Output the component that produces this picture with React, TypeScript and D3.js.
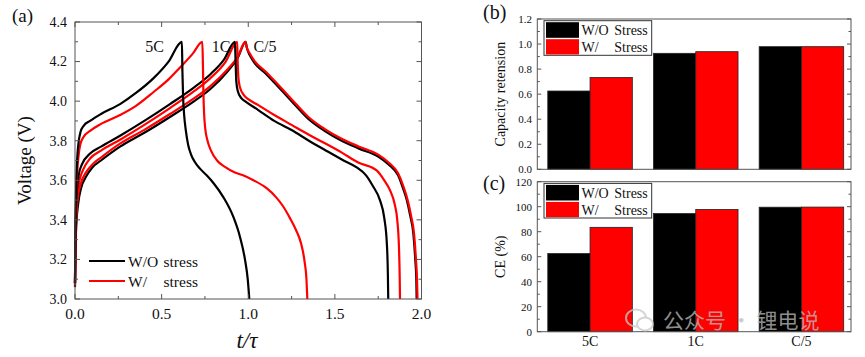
import React from "react";
import * as d3 from "d3";

// ---------- Panel (a) data: [t/τ, Voltage] ----------
const curve5C_WO: [number, number][] = [
  [0, 3.08], [0.002, 3.3], [0.005, 3.5], [0.009, 3.64], [0.015, 3.74], [0.022, 3.8], [0.032, 3.845], [0.05, 3.875],
  [0.087, 3.9], [0.15, 3.935], [0.26, 3.985], [0.35, 4.04], [0.452, 4.115], [0.54, 4.2], [0.617, 4.3],
  [0.62, 4.15], [0.624, 4.02], [0.63, 3.93], [0.64, 3.85], [0.653, 3.78], [0.67, 3.73], [0.69, 3.695], [0.72, 3.66],
  [0.76, 3.625], [0.8, 3.585], [0.856, 3.515], [0.914, 3.415], [0.952, 3.315], [0.981, 3.2], [0.997, 3.1], [1.006, 3.0],
];
const curve5C_W: [number, number][] = [
  [0, 3.08], [0.002, 3.28], [0.006, 3.5], [0.012, 3.63], [0.02, 3.72], [0.03, 3.78], [0.05, 3.82], [0.087, 3.85],
  [0.15, 3.885], [0.26, 3.93], [0.35, 3.975], [0.452, 4.045], [0.54, 4.11], [0.606, 4.17], [0.68, 4.24], [0.735, 4.3],
  [0.738, 4.2], [0.741, 4.05], [0.745, 3.94], [0.752, 3.86], [0.765, 3.8], [0.785, 3.75], [0.82, 3.7], [0.87, 3.665],
  [0.92, 3.64], [0.97, 3.625], [1.03, 3.6], [1.106, 3.56], [1.16, 3.515], [1.2, 3.47], [1.24, 3.41], [1.275, 3.35],
  [1.305, 3.28], [1.325, 3.19], [1.336, 3.1], [1.341, 3.0],
];
const curve1C_WO: [number, number][] = [
  [0, 3.08], [0.002, 3.3], [0.006, 3.46], [0.012, 3.56], [0.022, 3.63], [0.04, 3.68], [0.087, 3.735], [0.15, 3.77],
  [0.26, 3.825], [0.4, 3.9], [0.548, 3.985], [0.68, 4.065], [0.78, 4.135], [0.86, 4.21], [0.923, 4.3],
  [0.927, 4.2], [0.931, 4.1], [0.94, 4.05], [0.96, 4.015], [0.981, 4.0], [1.058, 3.955], [1.15, 3.9], [1.25, 3.854],
  [1.35, 3.8], [1.443, 3.753], [1.54, 3.705], [1.626, 3.665], [1.68, 3.625], [1.72, 3.57], [1.76, 3.5], [1.785, 3.41],
  [1.8, 3.28], [1.806, 3.12], [1.808, 3.0],
];
const curve1C_W: [number, number][] = [
  [0, 3.08], [0.002, 3.27], [0.007, 3.43], [0.014, 3.53], [0.026, 3.6], [0.045, 3.65], [0.087, 3.71], [0.15, 3.75],
  [0.26, 3.805], [0.4, 3.88], [0.548, 3.965], [0.68, 4.045], [0.78, 4.115], [0.87, 4.2], [0.936, 4.3],
  [0.939, 4.2], [0.943, 4.12], [0.952, 4.07], [0.975, 4.03], [1.0, 4.01], [1.058, 3.98], [1.15, 3.93], [1.25, 3.88],
  [1.35, 3.83], [1.443, 3.787], [1.54, 3.74], [1.635, 3.69], [1.741, 3.65], [1.785, 3.6], [1.818, 3.55], [1.845, 3.48],
  [1.86, 3.4], [1.87, 3.26], [1.874, 3.12], [1.876, 3.0],
];
const curveC5_WO: [number, number][] = [
  [0, 3.06], [0.002, 3.22], [0.008, 3.38], [0.018, 3.48], [0.035, 3.56], [0.065, 3.62], [0.1, 3.665], [0.15, 3.7],
  [0.26, 3.77], [0.4, 3.84], [0.548, 3.92], [0.68, 3.995], [0.78, 4.06], [0.88, 4.15], [0.94, 4.22], [0.985, 4.3],
  [0.992, 4.27], [1.01, 4.23], [1.039, 4.19], [1.1, 4.14], [1.154, 4.09], [1.25, 4.0], [1.347, 3.91], [1.44, 3.85],
  [1.539, 3.8], [1.64, 3.76], [1.75, 3.72], [1.81, 3.68], [1.865, 3.625], [1.893, 3.56], [1.915, 3.5], [1.935, 3.42],
  [1.953, 3.33], [1.964, 3.2], [1.97, 3.1], [1.972, 3.0],
];
const curveC5_W: [number, number][] = [
  [0, 3.07], [0.002, 3.25], [0.007, 3.41], [0.016, 3.51], [0.032, 3.58], [0.06, 3.635], [0.1, 3.68], [0.15, 3.715],
  [0.26, 3.785], [0.4, 3.855], [0.548, 3.935], [0.68, 4.01], [0.78, 4.075], [0.88, 4.16], [0.94, 4.225], [0.983, 4.3],
  [0.99, 4.275], [1.01, 4.24], [1.039, 4.2], [1.1, 4.15], [1.154, 4.1], [1.25, 4.01], [1.347, 3.92], [1.44, 3.86],
  [1.539, 3.81], [1.64, 3.77], [1.75, 3.73], [1.81, 3.69], [1.865, 3.635], [1.895, 3.57], [1.92, 3.5], [1.94, 3.42],
  [1.957, 3.33], [1.968, 3.2], [1.974, 3.1], [1.977, 3.0],
];
const rateLabels = ["5C", "1C", "C/5"];
const rateLabelPos: [number, number][] = [[0.405, 4.3], [0.79, 4.3], [1.03, 4.3]];

// ---------- Panels (b),(c) data ----------
const categories = ["5C", "1C", "C/5"];
const capacityWO = [0.625, 0.926, 0.979];
const capacityW = [0.733, 0.939, 0.979];
const ceWO = [62.5, 94.5, 99.6];
const ceW = [83.5, 97.8, 99.7];

const FONT = "'Liberation Serif', 'Times New Roman', serif";
const BLACK = "#000000";
const RED = "#ff0000";
const FRAME = "#555555";

function PanelA() {
  const L = 75, R = 421.5, T = 22, B = 299;
  const x = d3.scaleLinear().domain([0, 2]).range([L, R]);
  const y = d3.scaleLinear().domain([3.0, 4.4]).range([B, T]);
  const line = d3.line<[number, number]>().x((d) => x(d[0])).y((d) => y(d[1])).curve(d3.curveMonotoneX);
  const xMajor = d3.range(0, 2.001, 0.5);
  const xMinor = d3.range(0.25, 2, 0.5);
  const yMajor = d3.range(3.0, 4.401, 0.2);
  const yMinor = d3.range(3.1, 4.4, 0.2);
  const curves: { d: [number, number][]; c: string }[] = [
    { d: curveC5_WO, c: BLACK },
    { d: curveC5_W, c: RED },
    { d: curve1C_W, c: RED },
    { d: curve1C_WO, c: BLACK },
    { d: curve5C_W, c: RED },
    { d: curve5C_WO, c: BLACK },
  ];
  return (
    <g>
      <text x={12} y={22} fontFamily={FONT} fontSize={19} fill="#111">(a)</text>
      {curves.map((c, i) => (
        <path key={i} d={line(c.d) || ""} fill="none" stroke={c.c} strokeWidth={2.2} />
      ))}
      <rect x={L} y={T} width={R - L} height={B - T} fill="none" stroke={FRAME} strokeWidth={1} />
      {xMajor.map((v) => (
        <g key={"xM" + v}>
          <line x1={x(v)} x2={x(v)} y1={B} y2={B - 5} stroke={FRAME} />
          <line x1={x(v)} x2={x(v)} y1={T} y2={T + 5} stroke={FRAME} />
          <text x={x(v)} y={319} textAnchor="middle" fontFamily={FONT} fontSize={15.5} fill="#111">{v.toFixed(1)}</text>
        </g>
      ))}
      {xMinor.map((v) => (
        <g key={"xm" + v}>
          <line x1={x(v)} x2={x(v)} y1={B} y2={B - 3} stroke={FRAME} />
          <line x1={x(v)} x2={x(v)} y1={T} y2={T + 3} stroke={FRAME} />
        </g>
      ))}
      {yMajor.map((v) => (
        <g key={"yM" + v}>
          <line x1={L} x2={L + 5} y1={y(v)} y2={y(v)} stroke={FRAME} />
          <line x1={R} x2={R - 5} y1={y(v)} y2={y(v)} stroke={FRAME} />
          <text x={67} y={y(v) + 4.8} textAnchor="end" fontFamily={FONT} fontSize={14} fill="#111">{v.toFixed(1)}</text>
        </g>
      ))}
      {yMinor.map((v) => (
        <g key={"ym" + v}>
          <line x1={L} x2={L + 3} y1={y(v)} y2={y(v)} stroke={FRAME} />
          <line x1={R} x2={R - 3} y1={y(v)} y2={y(v)} stroke={FRAME} />
        </g>
      ))}
      <text transform={`translate(31,${(T + B) / 2}) rotate(-90)`} textAnchor="middle" fontFamily={FONT} fontSize={19} fill="#111">Voltage (V)</text>
      <text x={247} y={348} textAnchor="middle" fontFamily={FONT} fontSize={23} fontStyle="italic" fill="#111">t/τ</text>
      {rateLabels.map((s, i) => (
        <text key={s} x={x(rateLabelPos[i][0])} y={y(rateLabelPos[i][1]) + 10} fontFamily={FONT} fontSize={16} fill="#111">{s}</text>
      ))}
      {/* legend */}
      <line x1={89} x2={125} y1={261} y2={261} stroke={BLACK} strokeWidth={2.2} />
      <line x1={89} x2={125} y1={281} y2={281} stroke={RED} strokeWidth={2.2} />
      <text x={128} y={266.5} fontFamily={FONT} fontSize={15.5} fill="#111">W/O</text>
      <text x={163.5} y={266.5} fontFamily={FONT} fontSize={15.5} fill="#111">stress</text>
      <text x={128} y={286.5} fontFamily={FONT} fontSize={15.5} fill="#111">W/</text>
      <text x={163.5} y={286.5} fontFamily={FONT} fontSize={15.5} fill="#111">stress</text>
    </g>
  );
}

function BarPanel(props: {
  top: number; bottom: number; max: number; wo: number[]; w: number[];
  fmt: (v: number) => string; ylabel: string; tag: string; tagY: number; showX: boolean;
}) {
  const L = 537.3, R = 851;
  const { top: T, bottom: B } = props;
  const x = d3.scaleBand<string>().domain(categories).range([L, R]).paddingInner(0.2).paddingOuter(0.084).align(0.59);
  const xs = d3.scaleBand<string>().domain(["wo", "w"]).range([0, x.bandwidth()]);
  const y = d3.scaleLinear().domain([0, props.max]).range([B, T]);
  const major = y.ticks(6);
  const minor = y.ticks(12).filter((v) => !major.includes(v));
  const legX = 544, legY = T + 1.7;
  return (
    <g>
      <text x={483} y={props.tagY} fontFamily={FONT} fontSize={20} fill="#111">{props.tag}</text>
      {categories.map((c, i) => (
        <g key={c}>
          <rect x={x(c)! + xs("wo")!} y={y(props.wo[i])} width={xs.bandwidth()} height={B - y(props.wo[i])} fill={BLACK} stroke="#222" strokeWidth={0.8} />
          <rect x={x(c)! + xs("w")!} y={y(props.w[i])} width={xs.bandwidth()} height={B - y(props.w[i])} fill={RED} stroke="#222" strokeWidth={0.8} />
          {props.showX && (
            <text x={x(c)! + x.bandwidth() / 2} y={346} textAnchor="middle" fontFamily={FONT} fontSize={14} fill="#111">{c}</text>
          )}
        </g>
      ))}
      <rect x={L} y={T} width={R - L} height={B - T} fill="none" stroke={FRAME} strokeWidth={1} />
      {major.map((v) => (
        <g key={"M" + v}>
          <line x1={L} x2={L + 4} y1={y(v)} y2={y(v)} stroke={FRAME} />
          <line x1={R} x2={R - 4} y1={y(v)} y2={y(v)} stroke={FRAME} />
          <text x={532} y={y(v) + 3.8} textAnchor="end" fontFamily={FONT} fontSize={11} fill="#111">{props.fmt(v)}</text>
        </g>
      ))}
      {minor.map((v) => (
        <g key={"m" + v}>
          <line x1={L} x2={L + 2.5} y1={y(v)} y2={y(v)} stroke={FRAME} />
          <line x1={R} x2={R - 2.5} y1={y(v)} y2={y(v)} stroke={FRAME} />
        </g>
      ))}
      <text transform={`translate(505,${(T + B) / 2}) rotate(-90)`} textAnchor="middle" fontFamily={FONT} fontSize={14} fill="#111">{props.ylabel}</text>
      {/* legend */}
      <rect x={legX} y={legY} width={107.7} height={34.6} fill="#fff" stroke="#333" strokeWidth={1} />
      <rect x={legX + 2} y={legY + 1.5} width={33} height={15.6} fill={BLACK} />
      <rect x={legX + 2} y={legY + 18.5} width={33} height={15.3} fill={RED} />
      <text x={581.5} y={legY + 14.5} fontFamily={FONT} fontSize={14} fill="#111">W/O</text>
      <text x={614.3} y={legY + 14.5} fontFamily={FONT} fontSize={14} fill="#111">Stress</text>
      <text x={581.5} y={legY + 31.5} fontFamily={FONT} fontSize={14} fill="#111">W/</text>
      <text x={614.3} y={legY + 31.5} fontFamily={FONT} fontSize={14} fill="#111">Stress</text>
    </g>
  );
}

export default function App() {
  return (
    <svg width={865} height={357} style={{ position: "absolute", left: 0, top: 0, background: "#fff" }}>
      <rect x={0} y={0} width={865} height={357} fill="#fff" />
      <PanelA />
      <BarPanel top={19} bottom={169.3} max={1.2} wo={capacityWO} w={capacityW} fmt={(v) => v.toFixed(1)}
        ylabel="Capacity retension" tag="(b)" tagY={19} showX={false} />
      <BarPanel top={181.7} bottom={331.7} max={120} wo={ceWO} w={ceW} fmt={(v) => String(v)}
        ylabel="CE (%)" tag="(c)" tagY={190} showX={true} />
      {/* watermark */}
      <g opacity={0.75}>
        <ellipse cx={636} cy={318} rx={10} ry={8.5} fill="none" stroke="#c8c8c8" strokeWidth={2} />
        <ellipse cx={645} cy={324} rx={8} ry={6.5} fill="#fff" stroke="#c8c8c8" strokeWidth={2} />
        <text x={663} y={327.5} fontFamily="'Noto Sans CJK SC', sans-serif" fontSize={21} fill="#bdbdbd">公众号 · 锂电说</text>
      </g>
    </svg>
  );
}
